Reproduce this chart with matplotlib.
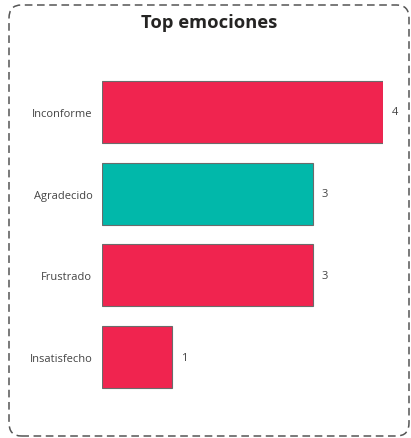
import matplotlib
matplotlib.use("Agg")
import matplotlib.pyplot as plt
from matplotlib.patches import FancyBboxPatch

categories = ["Inconforme", "Agradecido", "Frustrado", "Insatisfecho"]
values = [4, 3, 3, 1]
colors = ["#F0244F", "#01B8AA", "#F0244F", "#F0244F"]
title = "Top emociones"

W, H = 411, 439
fig = plt.figure(figsize=(W / 100, H / 100), dpi=100)
fig.patch.set_facecolor("white")

# dashed rounded border
border = FancyBboxPatch((9 / W, 1 - 437 / H), (409 - 9) / W, (437 - 6) / H,
                        boxstyle="round,pad=0,rounding_size=0.03",
                        transform=fig.transFigure, fill=False,
                        edgecolor="#555555", linewidth=1.1,
                        linestyle=(0, (5, 3)), clip_on=False)
fig.patches.append(border)

fig.text(209 / W, 1 - 23 / H, title, ha="center", va="center",
         fontsize=13.2, fontweight="bold", color="#252423", family="Open Sans")

left, right = 102, 383
top, bottom = 72, 399
ax = fig.add_axes([left / W, 1 - bottom / H, (right - left) / W, (bottom - top) / H])
ypos = list(range(len(categories)))
ax.barh(ypos, values, height=0.76, color=colors, edgecolor="#6b6b6b", linewidth=0.8)
ax.set_xlim(0, 4)
ax.set_ylim(3.5, -0.5)
ax.set_yticks(ypos)
ax.set_yticklabels(categories, fontsize=8, color="#444444", family="Open Sans")
ax.tick_params(axis="y", length=0, pad=7)
ax.set_xticks([])
for s in ax.spines.values():
    s.set_visible(False)
for y, v in zip(ypos, values):
    ax.text(v + 0.12, y, str(v), ha="left", va="center", fontsize=8,
            color="#444444", family="Open Sans", clip_on=False)

fig.savefig("out.png", dpi=100)
